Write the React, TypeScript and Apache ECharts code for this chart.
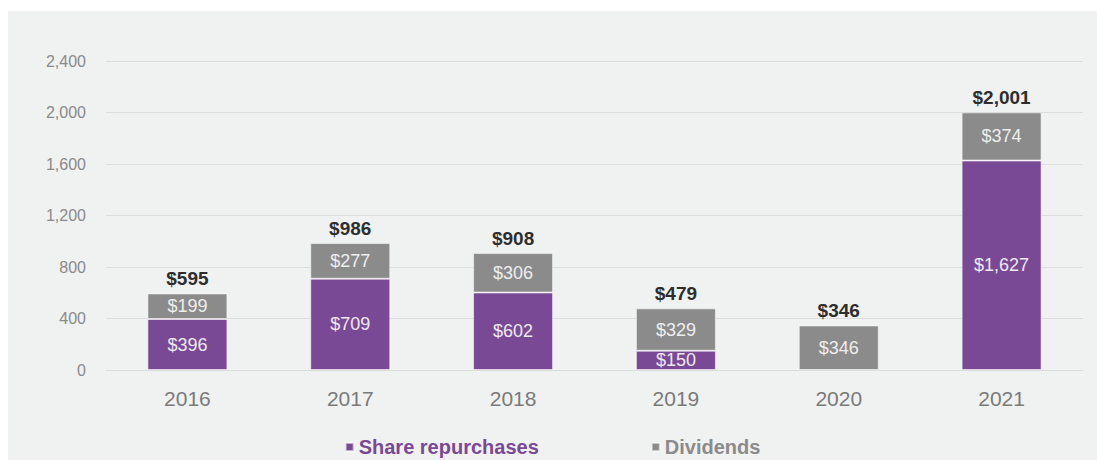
import React, { useEffect, useRef } from "react";
import * as echarts from "echarts";

const categories = ["2016", "2017", "2018", "2019", "2020", "2021"];
const repurchases: (number | null)[] = [396, 709, 602, 150, null, 1627];
const dividends = [199, 277, 306, 329, 346, 374];
const totals = [595, 986, 908, 479, 346, 2001];

const PURPLE = "#7a4996";
const GRAY = "#8b8b8b";
const FONT = "'Liberation Sans', Arial, Helvetica, sans-serif";

const fmt = (v: number) => v.toLocaleString("en-US");

export default function App() {
  const ref = useRef<HTMLDivElement>(null);
  useEffect(() => {
    if (!ref.current) return;
    const chart = echarts.init(ref.current, null, { renderer: "svg" });
    chart.setOption({
      animation: false,
      backgroundColor: "#f0f1f1",
      textStyle: { fontFamily: FONT },
      grid: { left: 98, right: 14, top: 50, bottom: 90, containLabel: false },
      legend: {
        data: [
          { name: "Share repurchases", textStyle: { color: PURPLE } },
          { name: "Dividends", textStyle: { color: GRAY } },
        ],
        top: 421,
        left: "center",
        itemWidth: 8,
        itemHeight: 8,
        itemGap: 112,
        icon: "rect",
        textStyle: { fontFamily: FONT, fontSize: 20, fontWeight: "bold" },
      },
      xAxis: {
        type: "category",
        data: categories,
        axisLine: { show: true, lineStyle: { color: "#dcdddd", width: 1 } },
        axisTick: { show: false },
        axisLabel: { color: "#7a7a7a", fontSize: 21, margin: 18, fontFamily: FONT },
      },
      yAxis: {
        type: "value",
        min: 0,
        max: 2400,
        interval: 400,
        axisLine: { show: false },
        axisTick: { show: false },
        splitLine: { lineStyle: { color: "#dcdddd", width: 1 } },
        axisLabel: {
          color: "#8a8a8a",
          fontSize: 16,
          margin: 20,
          fontFamily: FONT,
          formatter: (v: number) => fmt(v),
        },
      },
      series: [
        {
          name: "Share repurchases",
          type: "bar",
          stack: "total",
          barWidth: 80,
          data: repurchases,
          itemStyle: { color: PURPLE, borderColor: "rgba(255,255,255,0.55)", borderWidth: 1 },
          label: {
            show: true,
            position: "inside",
            color: "#eeeaf2",
            fontSize: 18,
            fontFamily: FONT,
            formatter: (p: any) => "$" + fmt(p.value),
          },
        },
        {
          name: "Dividends",
          type: "bar",
          stack: "total",
          barWidth: 80,
          data: dividends,
          itemStyle: { color: GRAY, borderColor: "rgba(255,255,255,0.55)", borderWidth: 1 },
          label: {
            show: true,
            position: "inside",
            color: "#eeeeee",
            fontSize: 18,
            fontFamily: FONT,
            formatter: (p: any) => "$" + fmt(p.value),
          },
        },
        {
          name: "Total",
          type: "line",
          data: totals,
          symbol: "circle",
          symbolSize: 1,
          showSymbol: true,
          itemStyle: { color: "transparent" },
          lineStyle: { opacity: 0 },
          silent: true,
          label: {
            show: true,
            position: "top",
            distance: 5,
            color: "#2e2e2e",
            fontSize: 19,
            fontWeight: "bold",
            fontFamily: FONT,
            formatter: (p: any) => "$" + fmt(p.value),
          },
        },
      ],
    });
    return () => chart.dispose();
  }, []);
  return (
    <div
      ref={ref}
      style={{ position: "absolute", left: 8, top: 11, width: 1089, height: 449 }}
    />
  );
}
